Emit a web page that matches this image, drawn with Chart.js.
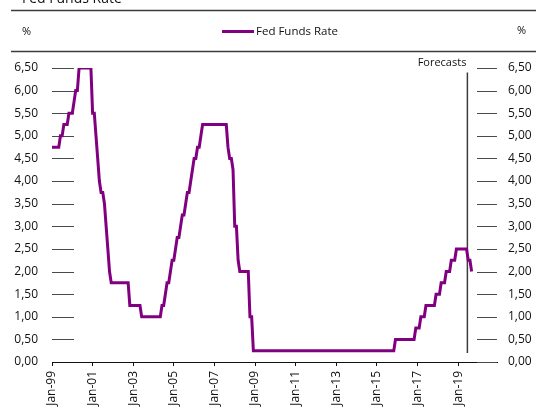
<!DOCTYPE html>
<html>
<head>
<meta charset="utf-8">
<script src="https://cdn.jsdelivr.net/npm/chart.js@4.4.1/dist/chart.umd.min.js"></script>
<style>
  html, body { margin: 0; padding: 0; background: #fff; }
  #wrap { position: relative; width: 536px; height: 408px; }
</style>
</head>
<body>
<div id="wrap"><canvas id="c" width="536" height="408"></canvas></div>
<script>
// Fed funds target rate (upper bound), end of month, %, from Jan 1999 to Sep 2019
const rate1999 = [4.75, 4.75, 4.75, 4.75, 4.75, 5.00, 5.00, 5.25, 5.25, 5.25, 5.50, 5.50];
const rate2000 = [5.50, 5.75, 6.00, 6.00, 6.50, 6.50, 6.50, 6.50, 6.50, 6.50, 6.50, 6.50];
const rate2001 = [5.50, 5.50, 5.00, 4.50, 4.00, 3.75, 3.75, 3.50, 3.00, 2.50, 2.00, 1.75];
const rate2002 = [1.75, 1.75, 1.75, 1.75, 1.75, 1.75, 1.75, 1.75, 1.75, 1.75, 1.25, 1.25];
const rate2003 = [1.25, 1.25, 1.25, 1.25, 1.25, 1.00, 1.00, 1.00, 1.00, 1.00, 1.00, 1.00];
const rate2004 = [1.00, 1.00, 1.00, 1.00, 1.00, 1.25, 1.25, 1.50, 1.75, 1.75, 2.00, 2.25];
const rate2005 = [2.25, 2.50, 2.75, 2.75, 3.00, 3.25, 3.25, 3.50, 3.75, 3.75, 4.00, 4.25];
const rate2006 = [4.50, 4.50, 4.75, 4.75, 5.00, 5.25, 5.25, 5.25, 5.25, 5.25, 5.25, 5.25];
const rate2007 = [5.25, 5.25, 5.25, 5.25, 5.25, 5.25, 5.25, 5.25, 4.75, 4.50, 4.50, 4.25];
const rate2008 = [3.00, 3.00, 2.25, 2.00, 2.00, 2.00, 2.00, 2.00, 2.00, 1.00, 1.00, 0.25];
const rate2009to2014 = new Array(72).fill(0.25);
const rate2015 = [0.25, 0.25, 0.25, 0.25, 0.25, 0.25, 0.25, 0.25, 0.25, 0.25, 0.25, 0.50];
const rate2016 = [0.50, 0.50, 0.50, 0.50, 0.50, 0.50, 0.50, 0.50, 0.50, 0.50, 0.50, 0.75];
const rate2017 = [0.75, 0.75, 1.00, 1.00, 1.00, 1.25, 1.25, 1.25, 1.25, 1.25, 1.25, 1.50];
const rate2018 = [1.50, 1.50, 1.75, 1.75, 1.75, 2.00, 2.00, 2.00, 2.25, 2.25, 2.25, 2.50];
const rate2019 = [2.50, 2.50, 2.50, 2.50, 2.50, 2.50, 2.25, 2.25, 2.00];

const fedFundsRate = [].concat(rate1999, rate2000, rate2001, rate2002, rate2003, rate2004,
  rate2005, rate2006, rate2007, rate2008, rate2009to2014, rate2015, rate2016, rate2017,
  rate2018, rate2019);

// months counted from Jan 1999
const xTickMonths = [0, 24, 48, 72, 96, 120, 144, 168, 192, 216, 240];
const xTickLabels = ["Jan-99", "Jan-01", "Jan-03", "Jan-05", "Jan-07", "Jan-09",
  "Jan-11", "Jan-13", "Jan-15", "Jan-17", "Jan-19"];
const lastMonth = 263;          // Dec 2020
const forecastStart = 245.5;    // forecasts begin mid-2019

const yTickLabels = ["0,00", "0,50", "1,00", "1,50", "2,00", "2,50", "3,00",
  "3,50", "4,00", "4,50", "5,00", "5,50", "6,00", "6,50"];
const yMax = 6.5;
const yStep = 0.5;

const seriesName = "Fed Funds Rate";
const purple = "#800080";
const FONT = "'Open Sans', 'DejaVu Sans', sans-serif";

const points = fedFundsRate.map((v, i) => ({ x: i, y: v }));

// header, legend, tick stubs and forecast marker
const decor = {
  id: 'decor',
  beforeDatasetsDraw(chart) {
    const ctx = chart.ctx;
    const y = chart.scales.y;
    const a = chart.chartArea;
    ctx.save();
    ctx.strokeStyle = '#4a4a4a';
    ctx.lineWidth = 1;
    y.ticks.forEach(t => {
      const py = Math.round(y.getPixelForValue(t.value)) + 0.5;
      if (t.value === 0) return;
      ctx.beginPath();
      ctx.moveTo(a.left, py); ctx.lineTo(a.left + 22, py);
      ctx.moveTo(a.right - 20, py); ctx.lineTo(a.right, py);
      ctx.stroke();
    });
    // 0,00 stub on the right sits on the axis line
    const p0 = Math.round(y.getPixelForValue(0)) + 0.5;
    ctx.beginPath();
    ctx.moveTo(a.right - 20, p0); ctx.lineTo(a.right, p0);
    ctx.stroke();

    // forecast divider
    const fx = chart.scales.x.getPixelForValue(forecastStart);
    ctx.strokeStyle = '#3c3c3c';
    ctx.lineWidth = 1.5;
    ctx.beginPath();
    ctx.moveTo(fx, y.getPixelForValue(6.4));
    ctx.lineTo(fx, y.getPixelForValue(0.2));
    ctx.stroke();
    ctx.fillStyle = '#111';
    ctx.font = "11px " + FONT;
    ctx.textAlign = 'right';
    ctx.textBaseline = 'alphabetic';
    ctx.fillText('Forecasts', fx - 1, 66);
    ctx.restore();
  },
  afterDraw(chart) {
    const ctx = chart.ctx;
    const W = chart.width;
    ctx.save();
    // title, partly above the frame
    ctx.fillStyle = '#111';
    ctx.font = "14px " + FONT;
    ctx.textAlign = 'left';
    ctx.textBaseline = 'alphabetic';
    ctx.fillText(seriesName, 22, 3);

    // rules framing the legend band
    ctx.strokeStyle = '#3c3c3c';
    ctx.lineWidth = 1.5;
    ctx.beginPath();
    ctx.moveTo(11, 10.5); ctx.lineTo(W, 10.5);
    ctx.moveTo(11, 51.5); ctx.lineTo(W, 51.5);
    ctx.stroke();

    // unit labels
    ctx.font = "11px " + FONT;
    ctx.textBaseline = 'middle';
    ctx.fillText('%', 22, 32);
    ctx.fillText('%', 517, 31);

    // legend entry
    ctx.strokeStyle = purple;
    ctx.lineWidth = 3;
    ctx.beginPath();
    ctx.moveTo(222, 31.5); ctx.lineTo(254, 31.5);
    ctx.stroke();
    ctx.font = "11.5px " + FONT;
    ctx.fillText(chart.data.datasets[0].label, 256, 32);
    ctx.restore();
  }
};

const tickFont = { family: FONT, size: 12 };

new Chart(document.getElementById('c'), {
  type: 'line',
  data: {
    datasets: [{
      label: seriesName,
      data: points,
      borderColor: purple,
      backgroundColor: purple,
      borderWidth: 3,
      pointRadius: 0,
      tension: 0,
      borderJoinStyle: 'miter',
      yAxisID: 'y'
    }]
  },
  options: {
    responsive: false,
    animation: false,
    events: [],
    layout: { padding: { top: 68, right: 0, bottom: 0, left: 0 } },
    plugins: { legend: { display: false }, title: { display: false }, tooltip: { enabled: false } },
    scales: {
      x: {
        type: 'linear',
        min: 0,
        max: lastMonth,
        afterBuildTicks(scale) { scale.ticks = xTickMonths.map(v => ({ value: v })); },
        afterFit(scale) { scale.height = 46; },
        ticks: {
          autoSkip: false,
          minRotation: 90,
          maxRotation: 90,
          padding: 5,
          color: '#111',
          font: tickFont,
          callback: (v, i) => xTickLabels[i]
        },
        grid: { display: true, drawOnChartArea: false, drawTicks: true, tickLength: 4, color: '#111', lineWidth: 1 },
        border: { display: true, color: '#111', width: 1 }
      },
      y: {
        position: 'left',
        min: 0,
        max: yMax,
        afterFit(scale) { scale.width = 52; },
        ticks: { stepSize: yStep, padding: 14, color: '#111', font: tickFont,
                 callback: (v, i) => yTickLabels[i] },
        grid: { display: false, drawTicks: false },
        border: { display: false }
      },
      y2: {
        position: 'right',
        min: 0,
        max: yMax,
        afterFit(scale) { scale.width = 39; },
        ticks: { stepSize: yStep, padding: 11, color: '#111', font: tickFont,
                 callback: (v, i) => yTickLabels[i] },
        grid: { display: false, drawTicks: false },
        border: { display: false }
      }
    }
  },
  plugins: [decor]
});
</script>
</body>
</html>
